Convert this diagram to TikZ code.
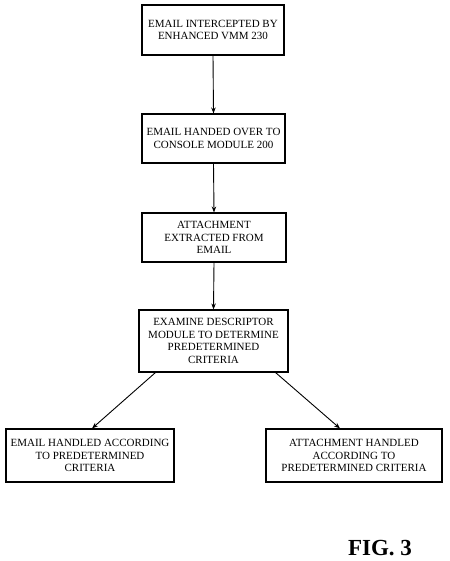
\documentclass[tikz,border=0pt]{standalone}
\usepackage{fontspec}
\setmainfont{Liberation Serif}
\usetikzlibrary{arrows.meta,calc}
\begin{document}
\begin{tikzpicture}[x=1pt,y=-1pt,
  stepbox/.style={draw,line width=1.1pt,inner sep=0pt,align=center,
    font=\fontsize{11}{12.5}\selectfont},
  conn/.style={line width=0.9pt,-{Stealth[length=6pt,width=4.5pt]}}]
\useasboundingbox (0,0) rectangle (449,561);
\node[stepbox,minimum width=142pt,minimum height=50pt] (b1) at (213,30)
  {EMAIL INTERCEPTED BY\\ENHANCED VMM 230};
\node[stepbox,minimum width=143pt,minimum height=49pt] (b2) at (213.5,138.5)
  {EMAIL HANDED OVER TO\\CONSOLE MODULE 200};
\node[stepbox,minimum width=144pt,minimum height=49pt] (b3) at (214,237.5)
  {ATTACHMENT\\EXTRACTED FROM\\EMAIL};
\node[stepbox,minimum width=149pt,minimum height=62pt] (b4) at (213.5,341)
  {EXAMINE DESCRIPTOR\\MODULE TO DETERMINE\\PREDETERMINED\\CRITERIA};
\node[stepbox,minimum width=168pt,minimum height=53pt] (b5) at (90,455.5)
  {EMAIL HANDLED ACCORDING\\TO PREDETERMINED\\CRITERIA};
\node[stepbox,minimum width=176pt,minimum height=53pt] (b6) at (354,455.5)
  {ATTACHMENT HANDLED\\ACCORDING TO\\PREDETERMINED CRITERIA};
\node[font=\bfseries\fontsize{23}{23}\selectfont,inner sep=0pt] (fig) at (380,548) {FIG. 3};
\draw[conn] (b1.south) -- (b2.north);
\draw[conn] (b2.south) -- (b3.north);
\draw[conn] (b3.south) -- (b4.north);
\draw[conn] ($(b4.south west)+(17,0)$) -- ($(b5.north)+(2,0)$);
\draw[conn] ($(b4.south east)+(-13,0)$) -- ($(b6.north)+(-14,0)$);
\end{tikzpicture}
\end{document}
